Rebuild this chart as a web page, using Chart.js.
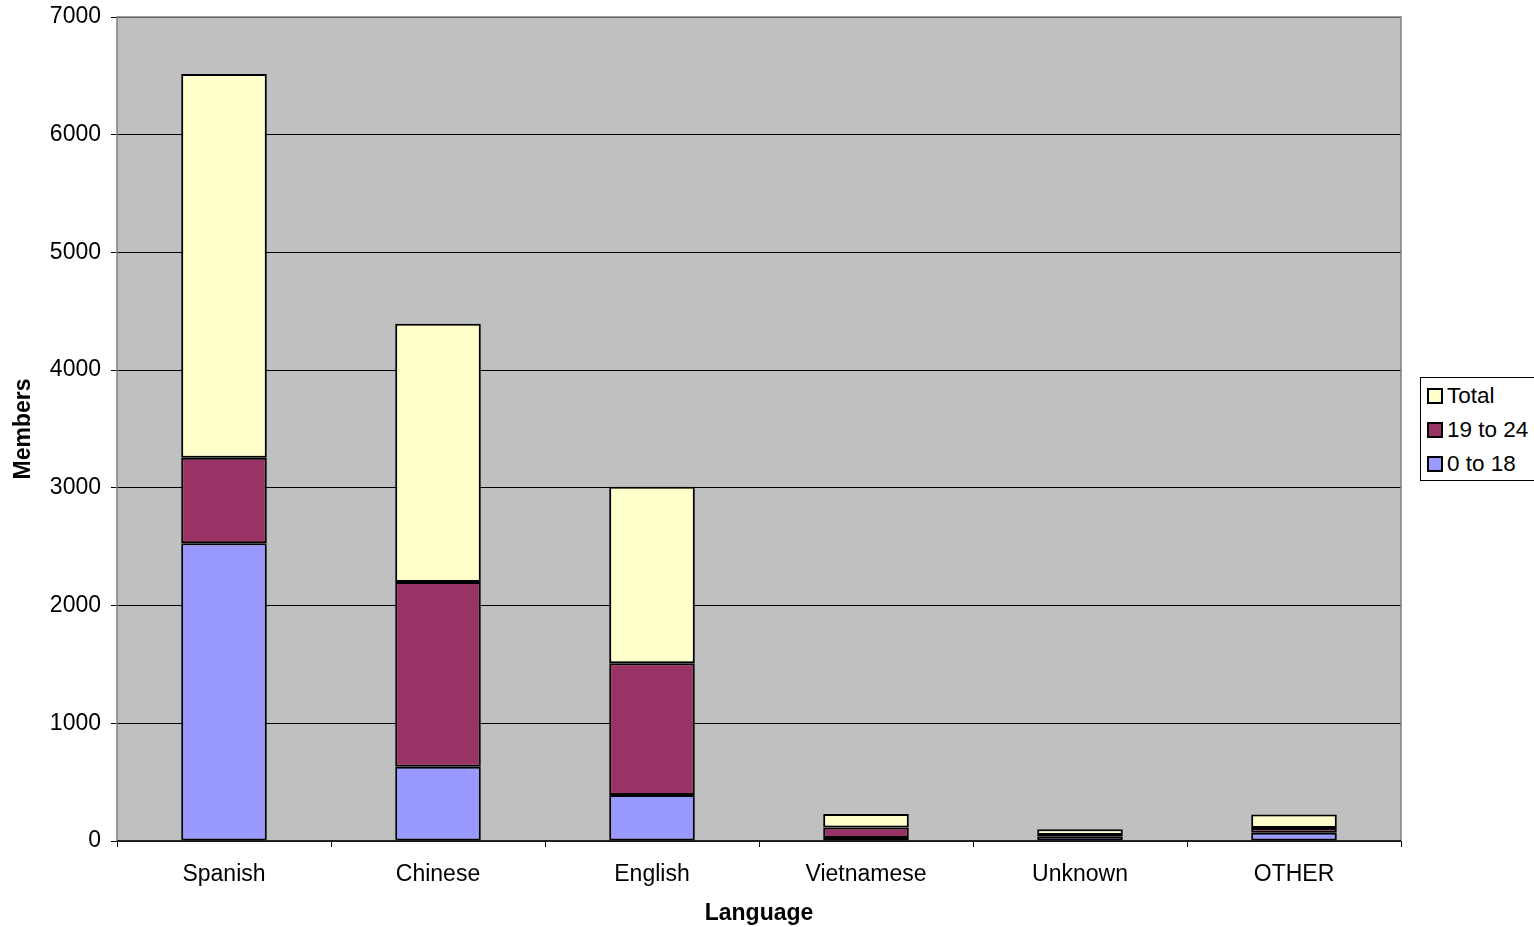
<!DOCTYPE html>
<html><head><meta charset="utf-8">
<script src="https://cdn.jsdelivr.net/npm/chart.js@4/dist/chart.umd.min.js"></script>
<style>
html,body{margin:0;padding:0;background:#fff;}
#wrap{position:relative;width:1534px;height:927px;}
#legend{position:absolute;left:1420px;top:377px;width:120px;height:104px;border:1px solid #000;background:#fff;box-sizing:border-box;font-family:"Liberation Sans",Arial,sans-serif;font-size:22.5px;color:#000;}
#legend div{position:absolute;left:6px;height:24px;line-height:24px;white-space:nowrap;}
#legend span{display:inline-block;width:12px;height:12px;border:2px solid #000;margin-right:4px;vertical-align:-1px;}
</style></head>
<body><div id="wrap"><canvas id="c" width="1534" height="927"></canvas><div id="legend"></div></div>
<script>
const categories = ["Spanish","Chinese","English","Vietnamese","Unknown","OTHER"];
const age0to18 = [2530, 630, 390, 25, 40, 70];
const age19to24 = [725, 1570, 1120, 90, 10, 40];
const totalVals = [3260, 2195, 1500, 115, 50, 115];
const yTicks = [0,1000,2000,3000,4000,5000,6000,7000];
const seriesNames = ["0 to 18","19 to 24","Total"];
const seriesColors = ["#9999FF","#993366","#FFFFCC"];

const font = {family:"Liberation Sans, Arial, sans-serif", size:23};
const bgPlugin = {
  id:'bg',
  beforeDraw(chart){
    const {ctx, chartArea:a} = chart;
    ctx.save(); ctx.fillStyle='#C0C0C0';
    ctx.fillRect(a.left,a.top,a.right-a.left,a.bottom-a.top);
    ctx.restore();
  },
  afterDatasetsDraw(chart){
    const {ctx, chartArea:a} = chart;
    ctx.save(); ctx.strokeStyle='#808080'; ctx.lineWidth=1.5;
    ctx.strokeRect(a.left,a.top,a.right-a.left,a.bottom-a.top);
    ctx.strokeStyle='#000'; ctx.beginPath(); ctx.moveTo(a.left,a.bottom); ctx.lineTo(a.right,a.bottom); ctx.stroke();
    ctx.restore();
  }
};
const data = [age0to18, age19to24, totalVals];
new Chart(document.getElementById('c'), {
  type:'bar',
  data:{labels:categories, datasets: data.map((d,i)=>({label:seriesNames[i], data:d, backgroundColor:seriesColors[i], borderColor:'#000', borderWidth:2, borderSkipped:false, categoryPercentage:0.8, barPercentage:0.5}))},
  options:{
    responsive:false, animation:false, devicePixelRatio:1,
    layout:{padding:{left:0,right:133,top:17,bottom:0}},
    plugins:{legend:{display:false}, tooltip:{enabled:false}},
    scales:{
      x:{stacked:true, offset:true,
        grid:{offset:true, drawOnChartArea:false, drawTicks:true, tickLength:6, color:'#000'},
        border:{display:false},
        ticks:{font:font, color:'#000', padding:14},
        title:{display:true, text:'Language', font:{...font, weight:'bold'}, color:'#000', padding:{top:8,bottom:0}},
        afterFit(s){ s.height = 86; s.paddingLeft=0; s.paddingRight=0; }
      },
      y:{stacked:true, min:0, max:7000,
        afterBuildTicks(s){ s.ticks = yTicks.map(v=>({value:v})); },
        grid:{color:'#000', lineWidth:1, tickLength:6, drawTicks:true},
        border:{display:false},
        ticks:{font:font, color:'#000', padding:10, callback:v=>String(v)},
        title:{display:true, text:'Members', font:{...font, weight:'bold'}, color:'#000', padding:{top:10,bottom:0}},
        afterFit(s){ s.width = 117; s.paddingTop=0; s.paddingBottom=0; }
      }
    }
  },
  plugins:[bgPlugin]
});
const lg = document.getElementById('legend');
[2,1,0].forEach((i,k)=>{
  const d=document.createElement('div');
  d.style.top=(6+k*34)+'px';
  d.innerHTML='<span style="background:'+seriesColors[i]+'"></span>'+seriesNames[i];
  lg.appendChild(d);
});
</script></body></html>
